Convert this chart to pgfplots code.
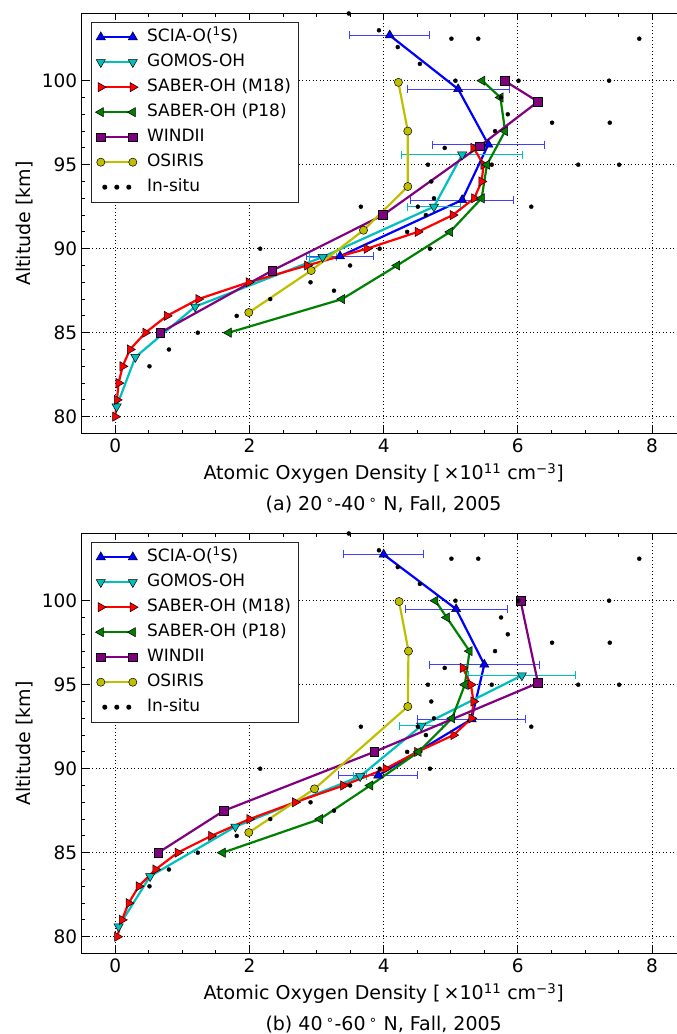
\documentclass[border=0pt]{standalone}
\usepackage{fontspec}
\setmainfont{DejaVu Sans}
\usepackage{pgfplots}
\pgfplotsset{compat=1.18}
\definecolor{mblue}{rgb}{0,0,1}
\definecolor{mcyan}{rgb}{0,0.75,0.75}
\definecolor{mred}{rgb}{1,0,0}
\definecolor{mgreen}{rgb}{0,0.5,0}
\definecolor{mpurple}{rgb}{0.5,0,0.5}
\definecolor{myellow}{rgb}{0.75,0.75,0}
\pgfplotsset{
  myaxis/.style={
    scale only axis, width=603.9pt, height=420pt,
    xmin=-0.5, xmax=8.5, ymin=79, ymax=104,
    xtick={0,2,4,6,8}, ytick={80,85,90,95,100},
    minor x tick num=3, minor y tick num=4,
    tick align=inside, tick pos=both,
    major tick length=7pt, minor tick length=3.5pt,
    every tick/.style={black, line width=0.8pt},
    axis line style={black, line width=1.2pt},
    grid=major, major grid style={black, line width=0.7pt, dash pattern=on 1pt off 2.5pt},
    /pgf/number format/assume math mode=true,
    ticklabel style={font=\fontsize{18.5}{20}\selectfont},
    xticklabel style={anchor=base, inner sep=0pt, yshift=-19.5pt},
    yticklabel style={anchor=east, inner sep=0pt, xshift=-4.4pt},
    every axis x label/.style={at={(axis description cs:0.5,0)}, anchor=base, yshift=-46pt, font=\fontsize{19}{20}\selectfont},
    every axis y label/.style={at={(axis description cs:-0.084,0.5)}, rotate=90, anchor=base, font=\fontsize{19}{20}\selectfont},
    xlabel={Atomic Oxygen Density [\,×10\textsuperscript{11} cm\textsuperscript{−3}]},
    ylabel={Altitude [km]},
    legend cell align=left,
    legend style={font=\fontsize{17}{20}\selectfont, draw=black!85, line width=1pt, fill=white,
      at={(0.0154,0.9805)}, anchor=north west, inner xsep=4pt, inner ysep=2.5pt, row sep=0pt,
      nodes={text height=12.5pt, text depth=3.5pt, inner ysep=4.5pt, inner xsep=3pt},
      /tikz/every odd column/.append style={column sep=6pt}},
    legend image code/.code={\draw plot coordinates {(0pt,0pt) (32pt,0pt)};},
  },
  ln/.style={line width=2.2pt},
  errb/.style={forget plot, draw=none, mark=none, error bars/.cd, x dir=both, x explicit,
    error bar style={draw=#1, line width=0.9pt}, error mark options={draw=#1, line width=0.9pt, mark size=4pt, rotate=90}},
  insitu/.style={only marks, mark=*, mark size=2pt, black, mark options={draw=black, fill=black},
    legend image code/.code={\draw plot coordinates {(4pt,0pt) (16pt,0pt) (28pt,0pt)};}},
}
\begin{document}
\begin{tikzpicture}
\begin{axis}[myaxis, name=axA, at={(81.7pt,600.5pt)}, anchor=south west]
\addplot[ln, mblue, mark=triangle*, mark size=5.3pt, mark options={fill=mblue, draw=black, line width=0.5pt, solid}] table {
x y
4.09 102.7
5.11 99.5
5.56 96.2
5.17 92.9
3.35 89.55
};
\addlegendentry{SCIA-O(\textsuperscript{1}S)}
\addplot[errb=mblue!75] table[x error index=2] {
x y e
4.09 102.7 0.60
5.11 99.5 0.76
5.56 96.2 0.83
5.17 92.9 0.77
3.35 89.55 0.50
};
\addplot[ln, mcyan, mark=triangle*, mark size=5.3pt, mark options={fill=mcyan, rotate=180, draw=black, line width=0.5pt, solid}] table {
x y
5.17 95.6
4.75 92.5
3.09 89.5
1.19 86.55
0.30 83.55
0.02 80.6
};
\addlegendentry{GOMOS-OH}
\addplot[errb=mcyan] table[x error index=2] {
x y e
5.17 95.6 0.90
4.75 92.5 0.40
3.09 89.5 0.20
};
\addplot[ln, mred, mark=triangle*, mark size=5.3pt, mark options={fill=mred, rotate=-90, draw=black, line width=0.5pt, solid}] table {
x y
0.00 80
0.025 81
0.05 82
0.11 83
0.22 84
0.45 85
0.77 86
1.24 87
1.99 88
2.86 89
3.75 90
4.51 91
5.03 92
5.35 93
5.46 94
5.49 95
5.34 96
};
\addlegendentry{SABER-OH (M18)}
\addplot[ln, mgreen, mark=triangle*, mark size=5.3pt, mark options={fill=mgreen, rotate=90, draw=black, line width=0.5pt, solid}] table {
x y
1.69 85
3.38 87
4.20 89
4.99 91
5.46 93
5.54 95
5.81 97
5.74 99
5.47 100
};
\addlegendentry{SABER-OH (P18)}
\addplot[ln, mpurple, mark=square*, mark size=4.4pt, mark options={fill=mpurple, draw=black, line width=0.5pt, solid}] table {
x y
0.67 85
2.34 88.7
3.99 92.0
5.43 96.1
6.30 98.75
5.80 100
};
\addlegendentry{WINDII}
\addplot[ln, myellow, mark=*, mark size=4.1pt, mark options={fill=myellow, draw=black, line width=0.5pt, solid}] table {
x y
1.99 86.2
2.92 88.7
3.70 91.1
4.36 93.7
4.36 97.0
4.22 99.9
};
\addlegendentry{OSIRIS}
\addplot[insitu] table {
x y
3.48 104.0
3.93 103.0
5.01 102.5
5.41 102.5
7.81 102.5
4.21 102.0
4.54 101.0
5.07 100
6.01 100
7.36 100
5.75 99.0
5.85 98.0
6.51 97.5
7.37 97.5
5.66 97.0
4.91 96.0
4.66 95
5.61 95
6.90 95
7.51 95
4.71 94
4.75 93
3.66 92.5
4.51 92.5
6.20 92.5
4.63 92
4.35 91
2.16 90
3.94 90
4.69 90
3.50 89
2.91 88
3.26 87.5
2.31 87
1.81 86
1.23 85
0.80 84
0.51 83
};
\addlegendentry{In-situ}
\end{axis}
\node[anchor=base, font=\fontsize{19}{20}\selectfont] at ([yshift=-77.5pt]axA.south) {(a) 20\,\textsuperscript{∘}-40\,\textsuperscript{∘} N, Fall, 2005};

\begin{axis}[myaxis, name=axB, at={(81.7pt,80.5pt)}, anchor=south west]
\addplot[ln, mblue, mark=triangle*, mark size=5.3pt, mark options={fill=mblue, draw=black, line width=0.5pt, solid}] table {
x y
4.00 102.75
5.08 99.5
5.50 96.2
5.31 92.95
3.92 89.6
};
\addlegendentry{SCIA-O(\textsuperscript{1}S)}
\addplot[errb=mblue!75] table[x error index=2] {
x y e
4.00 102.75 0.60
5.08 99.5 0.76
5.50 96.2 0.82
5.31 92.95 0.80
3.92 89.6 0.59
};
\addplot[ln, mcyan, mark=triangle*, mark size=5.3pt, mark options={fill=mcyan, rotate=180, draw=black, line width=0.5pt, solid}] table {
x y
6.06 95.55
4.56 92.55
3.65 89.55
1.79 86.55
0.52 83.6
0.05 80.6
};
\addlegendentry{GOMOS-OH}
\addplot[errb=mcyan] table[x error index=2] {
x y e
6.06 95.55 0.80
4.56 92.55 0.32
3.65 89.55 0.10
};
\addplot[ln, mred, mark=triangle*, mark size=5.3pt, mark options={fill=mred, rotate=-90, draw=black, line width=0.5pt, solid}] table {
x y
0.03 80
0.10 81
0.20 82
0.35 83
0.60 84
0.93 85
1.43 86
2.00 87
2.68 88
3.40 89
4.03 90
4.50 91
5.04 92
5.31 93
5.34 94
5.30 95
5.18 96
};
\addlegendentry{SABER-OH (M18)}
\addplot[ln, mgreen, mark=triangle*, mark size=5.3pt, mark options={fill=mgreen, rotate=90, draw=black, line width=0.5pt, solid}] table {
x y
1.60 85
3.05 87
3.80 89
4.52 91
5.02 93
5.21 95
5.28 97
4.94 99
4.77 100
};
\addlegendentry{SABER-OH (P18)}
\addplot[ln, mpurple, mark=square*, mark size=4.4pt, mark options={fill=mpurple, draw=black, line width=0.5pt, solid}] table {
x y
0.64 85
1.62 87.5
3.86 91.0
6.30 95.1
6.04 100
};
\addlegendentry{WINDII}
\addplot[ln, myellow, mark=*, mark size=4.1pt, mark options={fill=myellow, draw=black, line width=0.5pt, solid}] table {
x y
1.99 86.2
2.97 88.8
4.36 93.7
4.37 97.0
4.23 99.95
};
\addlegendentry{OSIRIS}
\addplot[insitu] table {
x y
3.48 104.0
3.93 103.0
5.01 102.5
5.41 102.5
7.81 102.5
4.21 102.0
4.54 101.0
5.07 100
6.01 100
7.36 100
5.75 99.0
5.85 98.0
6.51 97.5
7.37 97.5
5.66 97.0
4.91 96.0
4.66 95
5.61 95
6.90 95
7.51 95
4.71 94
4.75 93
3.66 92.5
4.51 92.5
6.20 92.5
4.63 92
4.35 91
2.16 90
3.94 90
4.69 90
3.50 89
2.91 88
3.26 87.5
2.31 87
1.81 86
1.23 85
0.80 84
0.51 83
};
\addlegendentry{In-situ}
\end{axis}
\node[anchor=base, font=\fontsize{19}{20}\selectfont] at ([yshift=-77.5pt]axB.south) {(b) 40\,\textsuperscript{∘}-60\,\textsuperscript{∘} N, Fall, 2005};
\pgfresetboundingbox
\useasboundingbox (0pt,0pt) rectangle (677pt,1034pt);
\end{tikzpicture}
\end{document}
